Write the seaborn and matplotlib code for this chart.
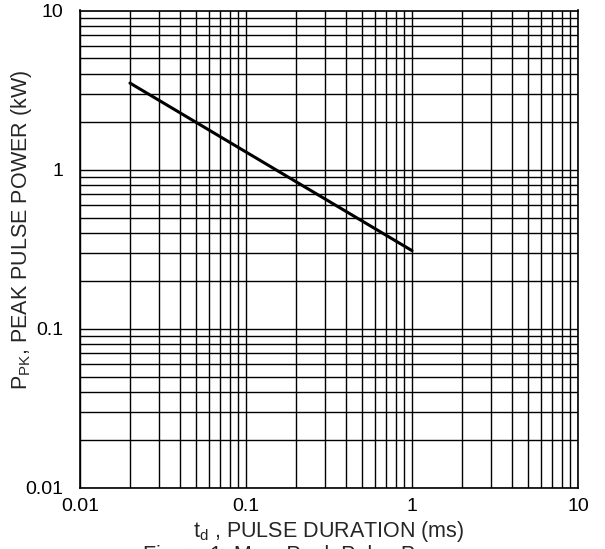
import numpy as np
import pandas as pd
import matplotlib
matplotlib.use('Agg')
import matplotlib.pyplot as plt
import matplotlib.ticker as mticker
import seaborn as sns

# Peak pulse power vs pulse duration
pulse_ms = [0.02, 1.0]
power_kw = [3.5, 0.31]
x_ticks = [0.01, 0.1, 1, 10]
x_ticklabels = ['0.01', '0.1', '1', '10']
y_ticks = [0.01, 0.1, 1, 10]
y_ticklabels = ['0.01', '0.1', '1', '10']

df = pd.DataFrame({'td': pulse_ms, 'ppk': power_kw})

sns.set_style('white')
plt.rcParams['font.family'] = ['Liberation Sans', 'DejaVu Sans']

fig = plt.figure(figsize=(6.05, 5.49), dpi=100)
ax = fig.add_axes([80 / 605, 1 - 488 / 549, 498 / 605, 477.5 / 549])

sns.lineplot(data=df, x='td', y='ppk', color='black', linewidth=2.2, ax=ax)

ax.set_xscale('log')
ax.set_yscale('log')
ax.set_xlim(0.01, 10)
ax.set_ylim(0.01, 10)

ax.xaxis.set_major_locator(mticker.FixedLocator(x_ticks))
ax.yaxis.set_major_locator(mticker.FixedLocator(y_ticks))
ax.xaxis.set_major_formatter(mticker.FixedFormatter(x_ticklabels))
ax.yaxis.set_major_formatter(mticker.FixedFormatter(y_ticklabels))
ax.xaxis.set_minor_locator(mticker.LogLocator(base=10, subs=np.arange(2, 10)))
ax.yaxis.set_minor_locator(mticker.LogLocator(base=10, subs=np.arange(2, 10)))
ax.xaxis.set_minor_formatter(mticker.NullFormatter())
ax.yaxis.set_minor_formatter(mticker.NullFormatter())

ax.grid(True, which='both', color='black', linewidth=1.0)
ax.tick_params(which='both', length=0, labelsize=14, colors='black')
ax.tick_params(axis='x', pad=7)
ax.tick_params(axis='y', pad=12)
for s in ax.spines.values():
    s.set_color('black')
    s.set_linewidth(1.2)

ax.set_xlabel(r'$\mathregular{t_d}$ , PULSE DURATION (ms)', fontsize=15.5, labelpad=3)
ax.set_ylabel(r'$\mathregular{P_{PK}}$, PEAK PULSE POWER (kW)', fontsize=15.5)
ax.yaxis.set_label_coords(-46 / 498, 0.54)

fig.text(0.5, 1 - 545 / 549, 'Figure 1. Max. Peak Pulse Power', ha='center', va='top', fontsize=15.5)

fig.savefig('out.png', dpi=100)
